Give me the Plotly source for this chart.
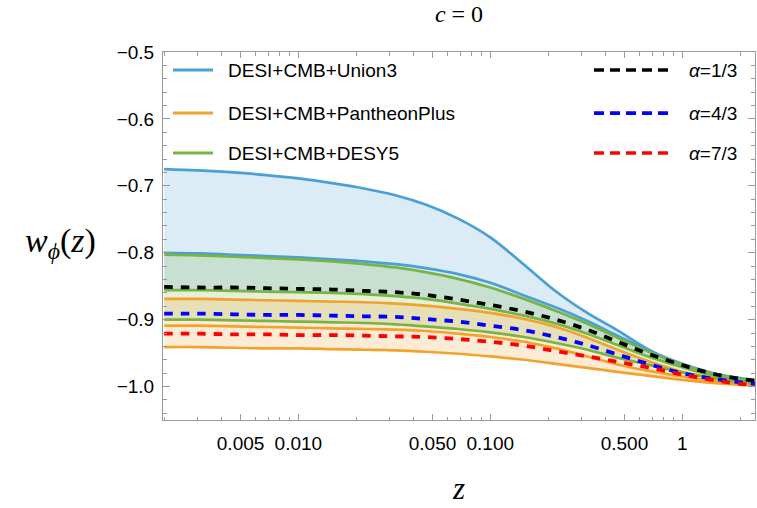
import plotly.graph_objects as go

# ---------------- data ----------------
z = [0.002, 0.003, 0.0046, 0.0068, 0.01, 0.015, 0.022, 0.032, 0.046, 0.068,
     0.1, 0.15, 0.22, 0.32, 0.46, 0.68, 1.0, 1.5, 2.2, 3.2]

union3_upper = [-0.675, -0.677, -0.680, -0.684, -0.689, -0.696, -0.704, -0.714, -0.728, -0.749,
                -0.777, -0.818, -0.858, -0.890, -0.916, -0.946, -0.970, -0.984, -0.991, -0.995]
union3_lower = [-0.800, -0.801, -0.803, -0.805, -0.807, -0.810, -0.813, -0.817, -0.823, -0.832,
                -0.845, -0.864, -0.882, -0.902, -0.924, -0.947, -0.966, -0.981, -0.989, -0.994]

desy5_upper = [-0.803, -0.804, -0.806, -0.808, -0.810, -0.813, -0.817, -0.822, -0.829, -0.839,
               -0.852, -0.869, -0.887, -0.906, -0.927, -0.949, -0.967, -0.982, -0.990, -0.994]
desy5_mid   = [-0.856, -0.856, -0.857, -0.858, -0.859, -0.860, -0.862, -0.865, -0.869, -0.876,
               -0.884, -0.894, -0.906, -0.921, -0.938, -0.956, -0.971, -0.984, -0.991, -0.995]
desy5_lower = [-0.900, -0.900, -0.901, -0.902, -0.903, -0.904, -0.905, -0.907, -0.910, -0.914,
               -0.919, -0.926, -0.935, -0.945, -0.957, -0.968, -0.979, -0.988, -0.994, -0.997]

pplus_upper = [-0.869, -0.869, -0.870, -0.871, -0.872, -0.873, -0.874, -0.876, -0.879, -0.884,
               -0.890, -0.899, -0.911, -0.927, -0.945, -0.963, -0.978, -0.988, -0.994, -0.997]
pplus_mid   = [-0.909, -0.909, -0.910, -0.911, -0.912, -0.913, -0.914, -0.915, -0.917, -0.921,
               -0.926, -0.933, -0.943, -0.955, -0.967, -0.977, -0.985, -0.992, -0.996, -0.998]
pplus_lower = [-0.941, -0.941, -0.942, -0.943, -0.943, -0.944, -0.945, -0.946, -0.948, -0.951,
               -0.955, -0.960, -0.966, -0.972, -0.978, -0.984, -0.990, -0.995, -0.998, -1.000]

alpha_13 = [-0.851, -0.852, -0.852, -0.853, -0.854, -0.855, -0.857, -0.859, -0.863, -0.870,
            -0.878, -0.888, -0.900, -0.915, -0.933, -0.952, -0.968, -0.982, -0.990, -0.994]
alpha_43 = [-0.891, -0.891, -0.892, -0.893, -0.893, -0.894, -0.895, -0.896, -0.899, -0.903,
            -0.909, -0.916, -0.926, -0.938, -0.952, -0.967, -0.980, -0.989, -0.995, -0.998]
alpha_73 = [-0.921, -0.921, -0.922, -0.922, -0.923, -0.923, -0.924, -0.925, -0.926, -0.929,
            -0.933, -0.939, -0.947, -0.955, -0.963, -0.972, -0.982, -0.991, -0.997, -0.999]

band_names = ["DESI+CMB+Union3", "DESI+CMB+PantheonPlus", "DESI+CMB+DESY5"]
alpha_names = ["\u03b1=1/3", "\u03b1=4/3", "\u03b1=7/3"]

x_tickvals = [0.005, 0.01, 0.05, 0.1, 0.5, 1]
x_ticktext = ["0.005", "0.010", "0.050", "0.100", "0.500", "1"]
x_minorvals = [0.002, 0.003, 0.004, 0.006, 0.007, 0.008, 0.009, 0.02, 0.03, 0.04,
               0.06, 0.07, 0.08, 0.09, 0.2, 0.3, 0.4, 0.6, 0.7, 0.8, 0.9, 2]

# ---------------- styles ----------------
BLUE = "#4a9fd4"
ORANGE = "#f4a22e"
GREEN = "#78b443"
BLUE_F = "rgba(74,159,212,0.20)"
ORANGE_F = "rgba(244,162,46,0.20)"
GREEN_F = "rgba(120,180,67,0.20)"
DASH_COLORS = ["black", "#0000ff", "#ff0000"]
FRAME = "#9a9a9a"
SANS = "Liberation Sans, Arial"
SERIF = "Liberation Serif, Times New Roman"

fig = go.Figure()


def band(lower, upper, fillcolor):
    fig.add_trace(go.Scatter(x=z, y=lower, mode="lines", line=dict(width=0, shape="spline"),
                             showlegend=False, hoverinfo="skip"))
    fig.add_trace(go.Scatter(x=z, y=upper, mode="lines", line=dict(width=0, shape="spline"),
                             fill="tonexty", fillcolor=fillcolor, showlegend=False, hoverinfo="skip"))


band(union3_lower, union3_upper, BLUE_F)
band(desy5_mid, union3_lower, BLUE_F)
band(desy5_lower, desy5_upper, GREEN_F)
band(pplus_lower, pplus_upper, ORANGE_F)


def line(y, color, width=2.7, dash=None, name=None):
    fig.add_trace(go.Scatter(x=z, y=y, mode="lines", name=name,
                             line=dict(color=color, width=width, shape="spline", dash=dash),
                             showlegend=False))


for y in (union3_upper, union3_lower):
    line(y, BLUE, name=band_names[0])
for y in (pplus_upper, pplus_mid, pplus_lower):
    line(y, ORANGE, name=band_names[1])
for y in (desy5_upper, desy5_mid, desy5_lower):
    line(y, GREEN, name=band_names[2])
for y, c, n in zip((alpha_13, alpha_43, alpha_73), DASH_COLORS, alpha_names):
    line(y, c, width=3.8, dash="8.5px,8px", name=n)

# ---------------- Mathematica-style legend inside the frame ----------------
shapes = []
annotations = []
rows_y = [0.951, 0.834, 0.7255]
for name, col, yy in zip(band_names, [BLUE, ORANGE, GREEN], rows_y):
    shapes.append(dict(type="line", xref="paper", yref="paper", x0=0.0169, x1=0.0845, y0=yy, y1=yy,
                       line=dict(color=col, width=3)))
    annotations.append(dict(text=name, xref="paper", yref="paper", x=0.1064, y=yy, xanchor="left",
                            yanchor="middle", showarrow=False,
                            font=dict(family=SANS, size=19, color="black")))
for name, col, yy in zip(alpha_names, DASH_COLORS, rows_y):
    shapes.append(dict(type="line", xref="paper", yref="paper", x0=0.728, x1=0.855, y0=yy, y1=yy,
                       line=dict(color=col, width=3.6, dash="10px,6px")))
    annotations.append(dict(text="<i>\u03b1</i>" + name[1:], xref="paper", yref="paper", x=0.885, y=yy,
                            xanchor="left", yanchor="middle", showarrow=False,
                            font=dict(family=SANS, size=19, color="black")))

# horizontal y-axis label (Mathematica style)
annotations.append(dict(text="<i>w</i><sub><i>\u03d5</i></sub>(<i>z</i>)", xref="paper", yref="paper",
                        x=0, y=0.481, xanchor="right", yanchor="middle", xshift=-65, showarrow=False,
                        font=dict(family=SERIF, size=34, color="black")))

fig.update_layout(
    width=757, height=508,
    margin=dict(l=163, r=2, t=52, b=88),
    paper_bgcolor="white", plot_bgcolor="white",
    showlegend=False,
    shapes=shapes, annotations=annotations,
    font=dict(family=SANS, size=19, color="black"),
    title=dict(text="<i>c</i> = 0", x=0.5, xref="paper", xanchor="center",
               y=0.974, yref="container", yanchor="middle",
               font=dict(family=SERIF, size=24, color="black")),
)

fig.update_xaxes(
    type="log", range=[-2.705, 0.379],
    showgrid=False, zeroline=False,
    showline=True, linecolor=FRAME, linewidth=1, mirror="ticks",
    ticks="inside", ticklen=6, tickcolor=FRAME, tickwidth=1,
    tickvals=x_tickvals, ticktext=x_ticktext, ticklabelstandoff=6,
    minor=dict(ticks="inside", ticklen=3.5, tickcolor=FRAME, tickvals=x_minorvals, showgrid=False),
    title=dict(text="<i>z</i>", standoff=24, font=dict(family=SERIF, size=31, color="black")),
)
fig.update_yaxes(
    range=[-1.05, -0.5],
    showgrid=False, zeroline=False,
    showline=True, linecolor=FRAME, linewidth=1, mirror="ticks",
    ticks="inside", ticklen=7, tickcolor=FRAME, tickwidth=1,
    dtick=0.1, tick0=-1.0, tickformat=".1f", ticklabelstandoff=4,
    minor=dict(ticks="inside", ticklen=4, tickcolor=FRAME, dtick=0.02, tick0=-1.0, showgrid=False),
)

fig.write_html("out.html")
